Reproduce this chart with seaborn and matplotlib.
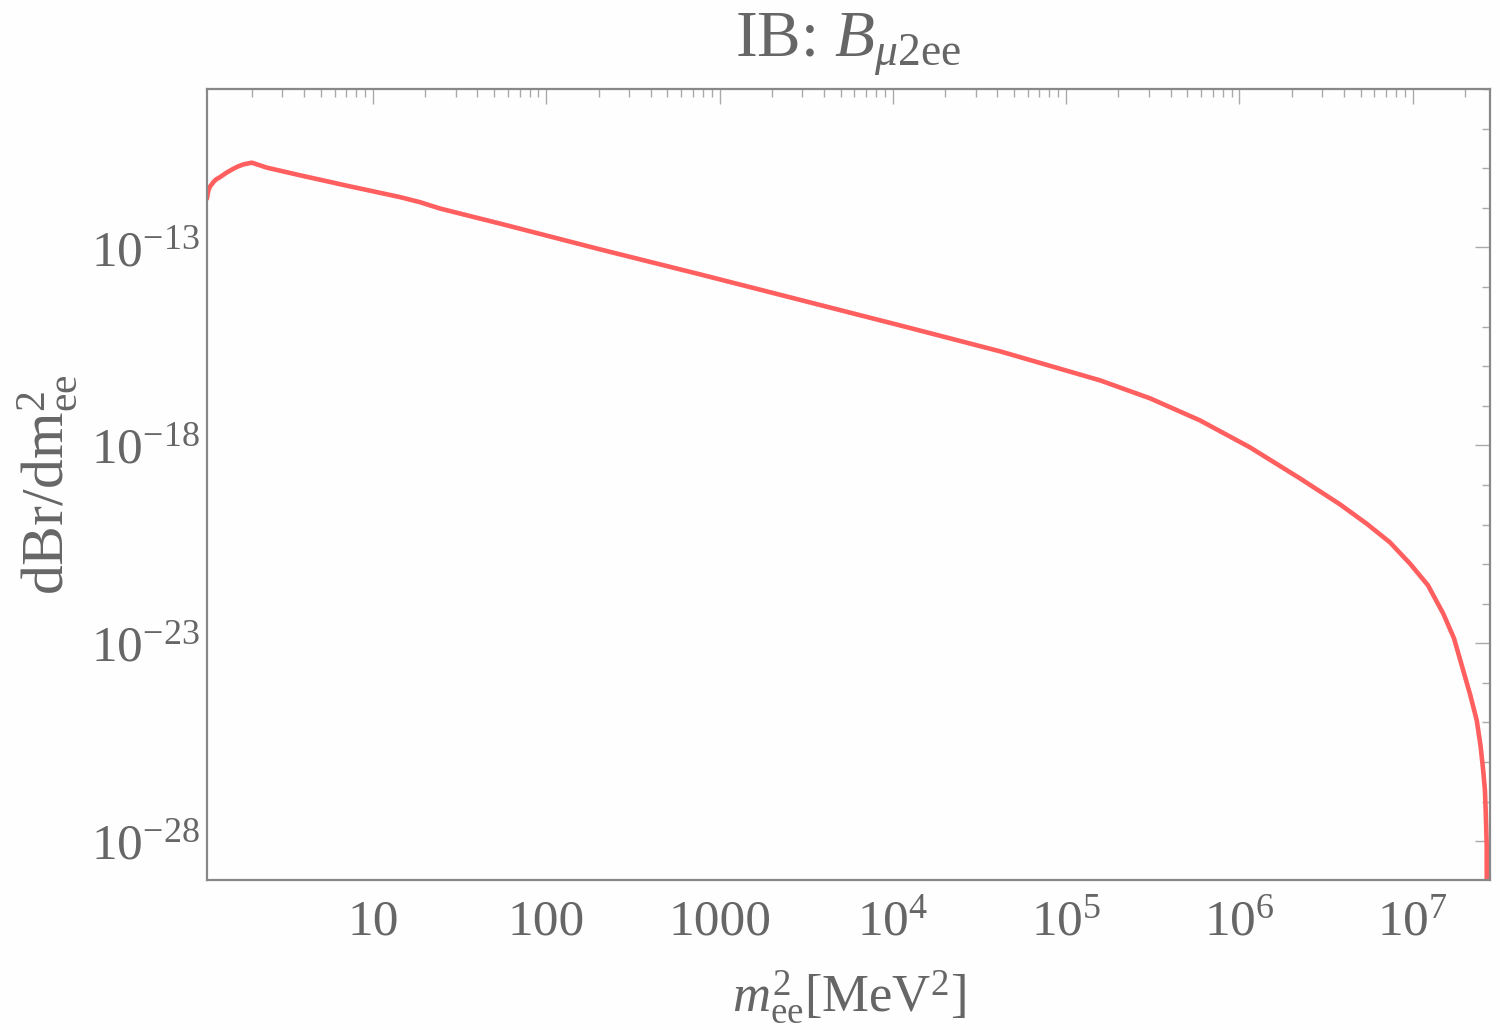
import numpy as np
import pandas as pd
import matplotlib
matplotlib.use("Agg")
import matplotlib.pyplot as plt
import matplotlib.ticker as mticker
import seaborn as sns

# ---- data (log-log curve) ----
m2_ee = [1.099, 1.109, 1.121, 1.147, 1.198, 1.242, 1.309, 1.418, 1.563, 1.663,
         1.785, 1.996, 2.44, 3.79, 7.36, 14.3, 18.7, 21.3, 24.4, 34.8,
         54.1, 204, 771, 10990, 41500, 156700, 304600, 591500, 1.15e6, 2.23e6,
         3.80e6, 5.42e6, 7.38e6, 9.64e6, 1.224e7, 1.50e7, 1.73e7, 1.955e7, 2.15e7, 2.34e7,
         2.46e7, 2.55e7, 2.61e7, 2.64e7, 2.672e7, 2.676e7]
dbr = [1.70e-12, 2.18e-12, 2.75e-12, 3.47e-12, 4.46e-12, 5.21e-12, 5.96e-12, 7.60e-12, 9.70e-12, 1.109e-11,
       1.247e-11, 1.377e-11, 1.03e-11, 6.61e-12, 3.47e-12, 1.86e-12, 1.38e-12, 1.15e-12, 9.55e-13, 6.46e-13,
       3.98e-13, 8.91e-14, 2.08e-14, 1.07e-15, 2.37e-16, 4.38e-17, 1.54e-17, 4.27e-18, 8.89e-19, 1.47e-19,
       3.24e-20, 1.05e-20, 3.56e-21, 1.03e-21, 2.92e-22, 5.62e-23, 1.34e-23, 2.08e-24, 4.86e-25, 1.14e-25,
       2.66e-26, 6.21e-27, 1.94e-27, 5.09e-28, 7.9e-29, 1e-30]

x_major = [10, 100, 1000, 1e4, 1e5, 1e6, 1e7]
x_labels = ["10", "100", "1000", r"$10^{4}$", r"$10^{5}$", r"$10^{6}$", r"$10^{7}$"]
y_major = [1e-13, 1e-18, 1e-23, 1e-28]
y_labels = [r"$10^{-13}$", r"$10^{-18}$", r"$10^{-23}$", r"$10^{-28}$"]

df = pd.DataFrame({"m2": m2_ee, "dbr": dbr})

sns.set_style("white")
plt.rcParams['font.family'] = ['Liberation Serif', 'DejaVu Serif']
plt.rcParams['mathtext.fontset'] = 'custom'
plt.rcParams['mathtext.rm'] = 'Liberation Serif'
plt.rcParams['mathtext.it'] = 'Liberation Serif:italic'
plt.rcParams['mathtext.bf'] = 'Liberation Serif:bold'

grey = '#666666'
fig = plt.figure(figsize=(15, 10.3), dpi=100, facecolor='#fefefe')
ax = fig.add_axes([0.138, 0.1456, 0.8553, 0.768])
ax.set_facecolor('#fefefe')

sns.lineplot(data=df, x="m2", y="dbr", ax=ax, color='#ff5f5f', linewidth=3.3,
             estimator=None, sort=False)

ax.set_xscale('log')
ax.set_yscale('log')
ax.set_xlim(1.10, 2.79e7)
ax.set_ylim(1.05e-29, 1e-9)

ax.xaxis.set_major_locator(mticker.FixedLocator(x_major))
ax.xaxis.set_major_formatter(mticker.FixedFormatter(x_labels))
ax.xaxis.set_minor_locator(mticker.LogLocator(base=10, subs=np.arange(2, 10), numticks=20))
ax.xaxis.set_minor_formatter(mticker.NullFormatter())

ax.yaxis.set_major_locator(mticker.FixedLocator(y_major))
ax.yaxis.set_major_formatter(mticker.FixedFormatter(y_labels))
ax.yaxis.set_minor_locator(mticker.FixedLocator([10.0 ** k for k in range(-29, -8)]))
ax.yaxis.set_minor_formatter(mticker.NullFormatter())

ax.tick_params(which='both', direction='in', top=True, right=True, color='#aaaaaa',
               labelcolor=grey, labelsize=37, width=1.0)
ax.tick_params(which='major', length=11)
ax.tick_params(which='minor', length=5.5)
ax.tick_params(axis='x', which='major', pad=14)
ax.tick_params(axis='y', which='major', pad=5)

for s in ax.spines.values():
    s.set_color('#888888')
    s.set_linewidth(1.6)

ax.set_xlabel(r"$m_{\mathrm{ee}}^{2}$[MeV$^{2}$]", fontsize=38, color=grey, labelpad=16)
ax.set_ylabel(r"dBr/dm$_{\mathrm{ee}}^{2}$", fontsize=43, color=grey, labelpad=8)
fig.text(0.5653, 1 - 57 / 1030, r"IB: $B_{\mu\mathrm{2ee}}$", fontsize=47, color=grey,
         ha='center', va='baseline')

plt.savefig("out.png", dpi=100, facecolor=fig.get_facecolor())
